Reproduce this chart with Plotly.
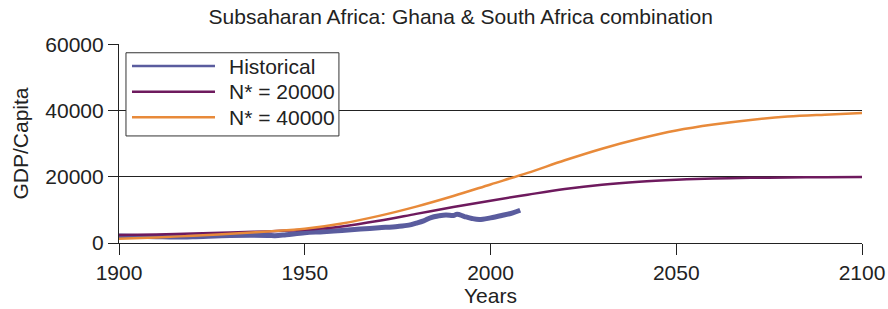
import plotly.graph_objects as go

hist_years = [1900, 1905, 1910, 1915, 1920, 1930, 1940, 1942, 1945, 1950, 1955, 1960, 1965, 1970,
              1975, 1978, 1980, 1982, 1984, 1986, 1988, 1990, 1991, 1993, 1995, 1997, 2000,
              2003, 2006, 2008]
hist_vals = [2100, 2000, 1900, 1800, 1900, 2300, 2300, 2200, 2500, 3100, 3400, 3800, 4200, 4600,
             5000, 5400, 6000, 6700, 7700, 8200, 8500, 8300, 8700, 8000, 7400, 7100, 7600,
             8300, 9100, 9900]

model_years = [1900, 1910, 1920, 1930, 1940, 1950, 1960, 1970, 1980, 1990, 2000,
               2010, 2020, 2030, 2040, 2050, 2060, 2070, 2080, 2090, 2100]
n20000_vals = [2400, 2600, 2900, 3200, 3500, 4000, 5000, 6700, 8800, 10900, 12800,
               14600, 16300, 17600, 18500, 19100, 19500, 19700, 19800, 19900, 19950]
n40000_vals = [1300, 1700, 2200, 2800, 3500, 4300, 5900, 8200, 11000, 14200, 17700,
               21200, 25000, 28500, 31500, 34000, 35800, 37200, 38200, 38800, 39300]

series_names = ["Historical", "N* = 20000", "N* = 40000"]

x_ticks = [1900, 1950, 2000, 2050, 2100]
y_ticks = [0, 20000, 40000, 60000]
y_tick_labels = ["0", "20000", "40000", "60000"]

FONT = "Liberation Sans, Arial, sans-serif"
TXT = "#222222"
C_HIST = "#5a5c9e"
C_20 = "#6e1a5e"
C_40 = "#e88a3a"
colors = [C_HIST, C_20, C_40]

fig = go.Figure()
fig.add_trace(go.Scatter(x=hist_years, y=hist_vals, mode="lines", name=series_names[0],
                         line=dict(color=C_HIST, width=5, shape="spline")))
fig.add_trace(go.Scatter(x=model_years, y=n20000_vals, mode="lines", name=series_names[1],
                         line=dict(color=C_20, width=2.5, shape="spline")))
fig.add_trace(go.Scatter(x=model_years, y=n40000_vals, mode="lines", name=series_names[2],
                         line=dict(color=C_40, width=2.5, shape="spline")))

# legend box drawn in paper coordinates (styling only)
shapes = [dict(type="rect", xref="paper", yref="paper", x0=0.0094, x1=0.296,
               y0=0.538, y1=0.956, line=dict(color="#333333", width=1),
               fillcolor="white", layer="above")]
annotations = []
row_y = [0.8894, 0.7603, 0.6317]
for name, col, yy in zip(series_names, colors, row_y):
    shapes.append(dict(type="line", xref="paper", yref="paper", x0=0.0175, x1=0.1292,
                       y0=yy, y1=yy, line=dict(color=col, width=2.5), layer="above"))
    annotations.append(dict(text=name, xref="paper", yref="paper", x=0.1454, y=yy,
                            xanchor="left", yanchor="middle", showarrow=False,
                            font=dict(size=21, color=TXT, family=FONT)))

fig.update_layout(
    width=888, height=309,
    margin=dict(l=119, r=26, t=44, b=66),
    plot_bgcolor="white", paper_bgcolor="white",
    font=dict(family=FONT, color=TXT, size=21),
    title=dict(text="Subsaharan Africa: Ghana & South Africa combination",
               x=0.46, xref="paper", xanchor="center", y=1 - 17 / 309, yref="container",
               yanchor="middle", font=dict(size=21, color=TXT, family=FONT)),
    showlegend=False,
    shapes=shapes,
    annotations=annotations,
)
fig.update_xaxes(range=[1900, 2100], tickvals=x_ticks, ticks="outside", ticklen=11,
                 tickcolor="#222", showline=True, linecolor="#222", linewidth=1.2,
                 showgrid=False, zeroline=False, automargin=False,
                 title=dict(text="Years", font=dict(size=21, color=TXT), standoff=4),
                 tickfont=dict(size=21, color=TXT))
fig.update_yaxes(range=[0, 60150], tickvals=y_ticks, ticktext=y_tick_labels,
                 ticks="outside", ticklen=10,
                 tickcolor="#222", showline=True, linecolor="#222", linewidth=1.2,
                 showgrid=True, gridcolor="#222", gridwidth=1, zeroline=False,
                 automargin=False,
                 title=dict(text="GDP/Capita", font=dict(size=21, color=TXT), standoff=10),
                 tickfont=dict(size=21, color=TXT))

fig.write_html(
    "out.html",
    config={"displayModeBar": False},
    post_script="document.body.style.margin='0';document.body.style.overflow='hidden';",
)
